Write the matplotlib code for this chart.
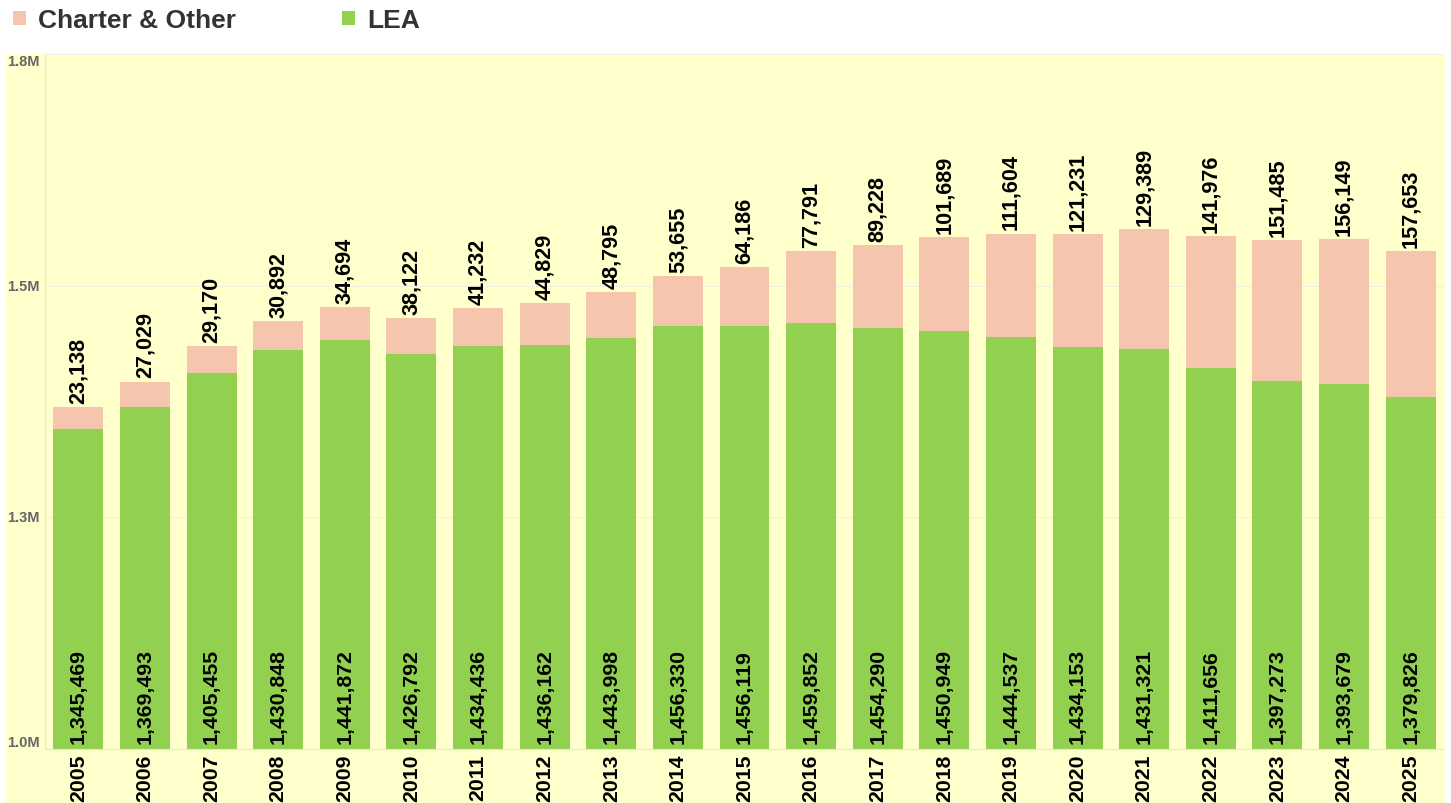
import matplotlib
matplotlib.use("Agg")
import matplotlib.pyplot as plt
from matplotlib.patches import Rectangle, Patch
from matplotlib.transforms import blended_transform_factory

years = [str(y) for y in range(2005, 2026)]
lea = [1345469, 1369493, 1405455, 1430848, 1441872, 1426792, 1434436, 1436162,
       1443998, 1456330, 1456119, 1459852, 1454290, 1450949, 1444537, 1434153,
       1431321, 1411656, 1397273, 1393679, 1379826]
charter = [23138, 27029, 29170, 30892, 34694, 38122, 41232, 44829, 48795, 53655,
           64186, 77791, 89228, 101689, 111604, 121231, 129389, 141976, 151485,
           156149, 157653]
ytick_vals = [1.0e6, 1.25e6, 1.5e6, 1.75e6]
ytick_labels = ["1.0M", "1.3M", "1.5M", "1.8M"]

GREEN = "#92D050"
PINK = "#F5C6AD"
BG = "#FFFFCC"
FONT = "Liberation Sans"

W, H = 1451, 804
fig = plt.figure(figsize=(W / 100, H / 100), dpi=100, facecolor="white")
fig.patches.append(Rectangle((6 / W, 0), (1445 - 6) / W, (H - 55) / H,
                             transform=fig.transFigure, facecolor=BG,
                             edgecolor="none", zorder=-10))

ax = fig.add_axes([45 / W, 54 / H, (1444 - 45) / W, (750 - 55) / H])
ax.set_zorder(1)
ax.set_facecolor(BG)

x = list(range(len(years)))
ax.bar(x, lea, width=0.75, color=GREEN, zorder=2)
ax.bar(x, charter, bottom=lea, width=0.75, color=PINK, zorder=2)

ax.set_xlim(-0.5, len(years) - 0.5)
ax.set_ylim(1.0e6, 1.75e6)

for i in x:
    ax.annotate(f"{lea[i]:,}", (i, 1.0e6), xytext=(0, 4.5), textcoords="offset points",
                rotation=90, ha="center", va="bottom", fontsize=15.3,
                fontweight="bold", family=FONT, color="black", zorder=3)
    ax.annotate(f"{charter[i]:,}", (i, lea[i] + charter[i]), xytext=(0, 3),
                textcoords="offset points", rotation=90, ha="center", va="bottom",
                fontsize=15.6, fontweight="bold", family=FONT, color="black", zorder=3)

ax.set_xticks(x)
ax.set_xticklabels(years, rotation=90, fontsize=15.3, fontweight="bold", family=FONT,
                   va="top")
ax.tick_params(axis="x", length=0, pad=3.5)

ax.set_yticks(ytick_vals)
ax.set_yticklabels([])
ax.tick_params(axis="y", length=0)
trans = blended_transform_factory(fig.transFigure, ax.transData)
vas = ["bottom", "center", "center", "top"]
for v, lab, va in zip(ytick_vals, ytick_labels, vas):
    ax.text(7 / W, v, lab, transform=trans, ha="left", va=va, fontsize=10.5,
            fontweight="bold", family=FONT, color="#666666", clip_on=False)

ax.grid(axis="y", color="#F0F0E0", linewidth=0.8, zorder=1)
ax.set_axisbelow(True)
for s in ["top", "right"]:
    ax.spines[s].set_visible(False)
for s in ["left", "bottom"]:
    ax.spines[s].set_color("#E8E8D8")
    ax.spines[s].set_linewidth(0.8)

handles = [Patch(facecolor=PINK, edgecolor="none", label="Charter & Other"),
           Patch(facecolor=GREEN, edgecolor="none", label="LEA")]
fig.legend(handles=handles, loc="upper left", bbox_to_anchor=(8 / W, 1 - 4 / H),
           ncol=2, frameon=False, handlelength=0.5, handleheight=0.45,
           handletextpad=0.45, columnspacing=4.0, borderaxespad=0, borderpad=0.2,
           prop={"family": FONT, "weight": "bold", "size": 19},
           labelcolor="#333333")

fig.savefig("out.png", dpi=100, facecolor="white")
